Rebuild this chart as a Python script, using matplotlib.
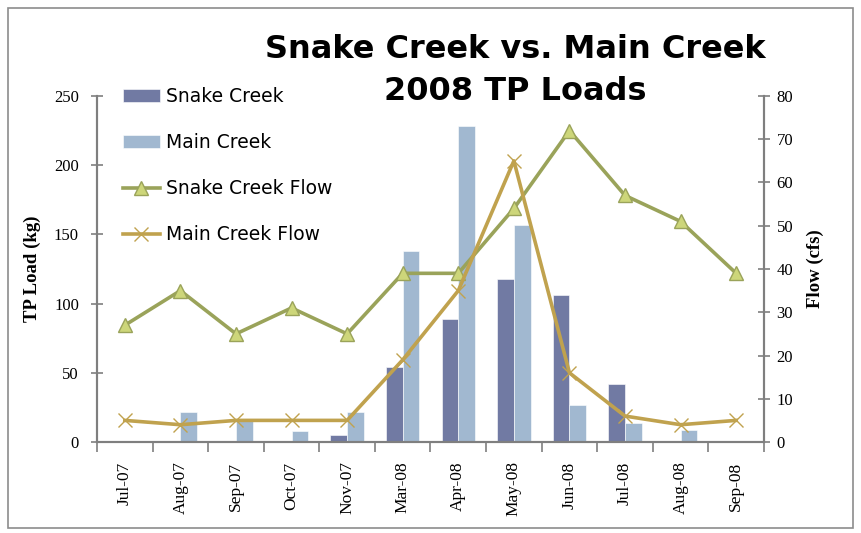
import numpy as np
import matplotlib
matplotlib.use('Agg')
import matplotlib.pyplot as plt
from matplotlib.patches import Rectangle

months = ['Jul-07', 'Aug-07', 'Sep-07', 'Oct-07', 'Nov-07', 'Mar-08',
          'Apr-08', 'May-08', 'Jun-08', 'Jul-08', 'Aug-08', 'Sep-08']

# TP loads (kg)
snake_load = [0, 0, 0, 0, 5, 54, 89, 118, 106, 42, 0, 0]
main_load = [0, 22, 15, 8, 22, 138, 228, 157, 27, 14, 9, 0]

# flows (cfs)
snake_flow = [27, 35, 25, 31, 25, 39, 39, 54, 72, 57, 51, 39]
main_flow = [5, 4, 5, 5, 5, 19, 35, 65, 16, 6, 4, 5]

SNAKE_BAR = '#717aa3'
MAIN_BAR = '#a1b8d0'
SNAKE_LINE = '#9aa35a'
SNAKE_FILL = '#cdd67a'
MAIN_LINE = '#c0a24e'
AXIS_GRAY = '#7f7f7f'

serif = 'Liberation Serif'

fig = plt.figure(figsize=(8.61, 5.33), dpi=100)
ax = fig.add_axes([0.1127, 0.1707, 0.7746, 0.6492])
ax2 = ax.twinx()

x = np.arange(len(months))
w = 0.3
b1 = ax.bar(x - w / 2, snake_load, w, color=SNAKE_BAR, edgecolor='white', linewidth=0.4, label='Snake Creek')
b2 = ax.bar(x + w / 2, main_load, w, color=MAIN_BAR, edgecolor='white', linewidth=0.4, label='Main Creek')

l1, = ax2.plot(x, snake_flow, color=SNAKE_LINE, lw=2.6, marker='^', markersize=10,
               markerfacecolor=SNAKE_FILL, markeredgecolor=SNAKE_LINE, markeredgewidth=1,
               label='Snake Creek Flow')
l2, = ax2.plot(x, main_flow, color=MAIN_LINE, lw=2.6, marker='x', markersize=10,
               markeredgewidth=1, label='Main Creek Flow')

ax.set_xlim(-0.5, len(months) - 0.5)
ax.set_ylim(0, 250)
ax2.set_ylim(0, 80)
ax.set_yticks(np.arange(0, 251, 50))
ax2.set_yticks(np.arange(0, 81, 10))

# ticks at category boundaries, labels at centres
ax.set_xticks(np.arange(-0.5, len(months), 1.0))
ax.set_xticklabels([])
ax.set_xticks(x, minor=True)
ax.set_xticklabels(months, minor=True, rotation=90, fontfamily=serif, fontsize=12.5)
ax.tick_params(axis='x', which='minor', length=0, pad=14)
ax.tick_params(axis='x', which='major', direction='out', length=7, color=AXIS_GRAY, width=1.2)

for a in (ax, ax2):
    for s in a.spines.values():
        s.set_color(AXIS_GRAY)
        s.set_linewidth(1.5)
    a.spines['top'].set_visible(False)
ax.tick_params(axis='y', direction='inout', length=8, color=AXIS_GRAY, width=1.2, pad=9)
ax2.tick_params(axis='y', direction='inout', length=8, color=AXIS_GRAY, width=1.2, pad=5)
for lab in ax.get_yticklabels() + ax2.get_yticklabels():
    lab.set_fontfamily(serif)
    lab.set_fontsize(12)

ax.set_ylabel('TP Load (kg)', fontfamily=serif, fontweight='bold', fontsize=13.5, labelpad=9)
ax2.set_ylabel('Flow (cfs)', fontfamily=serif, fontweight='bold', fontsize=13.5, rotation=90, labelpad=10)

leg = ax2.legend([b1, b2, l1, l2], [h.get_label() for h in (b1, b2, l1, l2)],
                 loc='upper left', bbox_to_anchor=(0.013, 1.075), frameon=False,
                 fontsize=13.5, labelspacing=1.45, handlelength=2.0, handletextpad=0.3)

# title as two separate lines (as in the reference, line 2 sits beside the legend)
fig.text(0.598, 1 - 49 / 533, 'Snake Creek vs. Main Creek',
         ha='center', va='center', fontsize=23, fontweight='bold')
fig.text(0.598, 1 - 92 / 533, '2008 TP Loads',
         ha='center', va='center', fontsize=23, fontweight='bold')

# outer chart border
fig.patches.append(Rectangle((8 / 861, 1 - 528 / 533), 845 / 861, 520 / 533,
                             transform=fig.transFigure, fill=False,
                             edgecolor='#8c8c8c', linewidth=1.2))

fig.savefig('out.png', dpi=100)
